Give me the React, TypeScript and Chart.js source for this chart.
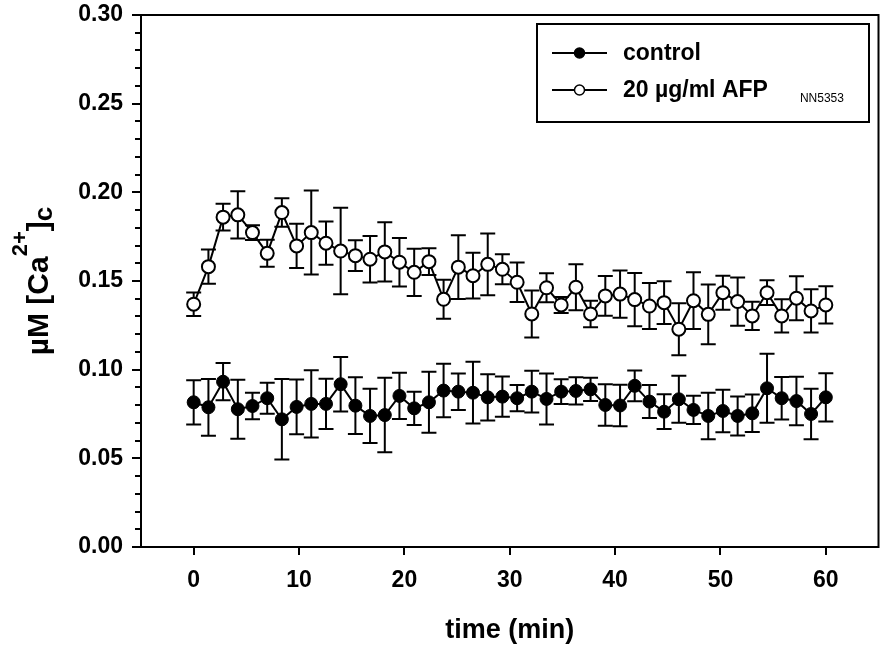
import React, { useEffect, useRef } from "react";
import { Chart, registerables } from "chart.js";

Chart.register(...registerables);

const timeMin = [
  0, 1.4, 2.79, 4.19, 5.58, 6.98, 8.37, 9.77, 11.16, 12.56, 13.95, 15.35, 16.74, 18.14, 19.53,
  20.93, 22.33, 23.72, 25.12, 26.51, 27.91, 29.3, 30.7, 32.09, 33.49, 34.88, 36.28, 37.67, 39.07,
  40.47, 41.86, 43.26, 44.65, 46.05, 47.44, 48.84, 50.23, 51.63, 53.02, 54.42, 55.81, 57.21, 58.6, 60,
];

const controlMean = [
  0.0816, 0.0788, 0.0932, 0.0777, 0.0795, 0.0839, 0.072, 0.079, 0.0807, 0.0807, 0.0918, 0.0797,
  0.0739, 0.0744, 0.0852, 0.0782, 0.0816, 0.0882, 0.0876, 0.087, 0.0844, 0.0848, 0.0839, 0.0876,
  0.0835, 0.0876, 0.088, 0.0889, 0.0801, 0.0798, 0.0909, 0.082, 0.0763, 0.0833, 0.0773, 0.0739,
  0.0767, 0.0739, 0.0754, 0.0895, 0.0839, 0.0823, 0.075, 0.0844,
];
const controlErr = [
  0.0125, 0.016, 0.0105, 0.0166, 0.0075, 0.0087, 0.0227, 0.0154, 0.019, 0.0142, 0.0154, 0.016,
  0.0153, 0.021, 0.013, 0.0094, 0.0172, 0.0151, 0.0103, 0.0174, 0.013, 0.0113, 0.0074, 0.0118,
  0.0144, 0.007, 0.0077, 0.0066, 0.0117, 0.0117, 0.0087, 0.0093, 0.0098, 0.0133, 0.008, 0.0131,
  0.012, 0.011, 0.0106, 0.0195, 0.012, 0.0137, 0.0142, 0.0136,
];

const afpMean = [
  0.1369, 0.1581, 0.186, 0.1873, 0.1773, 0.1656, 0.1886, 0.1698, 0.1773, 0.1713, 0.1669, 0.1643,
  0.1623, 0.1664, 0.1606, 0.1549, 0.1609, 0.1397, 0.1578, 0.153, 0.1594, 0.1566, 0.1493, 0.1314,
  0.1462, 0.1365, 0.1465, 0.1314, 0.1416, 0.1426, 0.1395, 0.1359, 0.1378, 0.1228, 0.1389, 0.1312,
  0.1434, 0.1384, 0.1303, 0.1434, 0.1303, 0.1403, 0.1331, 0.1365,
];
const afpErr = [
  0.0066, 0.0096, 0.0075, 0.0133, 0.0042, 0.0076, 0.008, 0.0125, 0.0237, 0.0122, 0.0244, 0.0087,
  0.0131, 0.0167, 0.0137, 0.0133, 0.0075, 0.011, 0.018, 0.0129, 0.0174, 0.0085, 0.0111, 0.0132,
  0.0082, 0.0045, 0.013, 0.0075, 0.0112, 0.0133, 0.015, 0.013, 0.012, 0.0146, 0.016, 0.0168,
  0.0096, 0.0136, 0.008, 0.007, 0.0094, 0.0124, 0.0122, 0.0105,
];

const xTickValues = [0, 10, 20, 30, 40, 50, 60];
const yTickValues = [0, 0.05, 0.1, 0.15, 0.2, 0.25, 0.3];
const yMinorValues = [
  0.01, 0.02, 0.03, 0.04, 0.06, 0.07, 0.08, 0.09, 0.11, 0.12, 0.13, 0.14, 0.16, 0.17, 0.18, 0.19,
  0.21, 0.22, 0.23, 0.24, 0.26, 0.27, 0.28, 0.29,
];

const seriesNames = ["control", "20 µg/ml AFP"];
const seriesSubscript = ["", "NN5353"];
const xTitle = "time (min)";
const yTitleParts = { main: "µM [Ca", sup: "2+", close: "]", sub: "c" };

const FONT = "'Liberation Sans', Arial, sans-serif";
const errors = [controlErr, afpErr];

export default function App() {
  const ref = useRef<HTMLCanvasElement>(null);

  useEffect(() => {
    document.body.style.margin = "0";
    const canvas = ref.current;
    if (!canvas) return;

    const decorPlugin = {
      id: "decor",
      beforeDatasetsDraw(chart: any) {
        const ctx = chart.ctx;
        const ys = chart.scales.y;
        ctx.save();
        ctx.strokeStyle = "#000";
        ctx.lineWidth = 2;
        chart.data.datasets.forEach((ds: any, i: number) => {
          const meta = chart.getDatasetMeta(i);
          const errs = errors[i];
          meta.data.forEach((pt: any, j: number) => {
            const v = ds.data[j].y;
            const e = errs[j];
            const yt = ys.getPixelForValue(v + e);
            const yb = ys.getPixelForValue(v - e);
            const x = pt.x;
            ctx.beginPath();
            ctx.moveTo(x, yt);
            ctx.lineTo(x, yb);
            ctx.moveTo(x - 7.5, yt);
            ctx.lineTo(x + 7.5, yt);
            ctx.moveTo(x - 7.5, yb);
            ctx.lineTo(x + 7.5, yb);
            ctx.stroke();
          });
        });
        ctx.restore();
      },
      afterDraw(chart: any) {
        const ctx = chart.ctx;
        const { left, right, top, bottom } = chart.chartArea;
        const ys = chart.scales.y;
        ctx.save();
        ctx.strokeStyle = "#000";
        ctx.fillStyle = "#000";
        ctx.lineWidth = 2;
        // frame
        ctx.strokeRect(left, top, right - left, bottom - top);
        // minor y ticks
        ctx.beginPath();
        yMinorValues.forEach((v) => {
          const y = Math.round(ys.getPixelForValue(v));
          ctx.moveTo(left - 6, y);
          ctx.lineTo(left, y);
        });
        ctx.stroke();

        // x title
        ctx.font = `bold 27px ${FONT}`;
        ctx.textAlign = "center";
        ctx.textBaseline = "middle";
        ctx.fillText(xTitle, (left + right) / 2, 631);

        // y title (rotated)
        ctx.save();
        const mainF = `bold 30px ${FONT}`;
        const supF = `bold 22px ${FONT}`;
        const subF = `bold 26px ${FONT}`;
        ctx.font = mainF;
        const w1 = ctx.measureText(yTitleParts.main).width;
        const w3 = ctx.measureText(yTitleParts.close).width;
        ctx.font = supF;
        const w2 = ctx.measureText(yTitleParts.sup).width;
        ctx.font = subF;
        const w4 = ctx.measureText(yTitleParts.sub).width;
        const total = w1 + w2 + w3 + w4;
        ctx.translate(48, (top + bottom) / 2);
        ctx.rotate(-Math.PI / 2);
        ctx.textAlign = "left";
        ctx.textBaseline = "alphabetic";
        let x = -total / 2;
        ctx.font = mainF;
        ctx.fillText(yTitleParts.main, x, 0);
        x += w1;
        ctx.font = supF;
        ctx.fillText(yTitleParts.sup, x, -21);
        x += w2;
        ctx.font = mainF;
        ctx.fillText(yTitleParts.close, x, 0);
        x += w3;
        ctx.font = subF;
        ctx.fillText(yTitleParts.sub, x, 4);
        ctx.restore();

        // legend
        const lx = 537, ly = 24, lw = 332, lh = 98;
        ctx.fillStyle = "#fff";
        ctx.fillRect(lx, ly, lw, lh);
        ctx.strokeRect(lx, ly, lw, lh);
        const rowsY = [53, 90];
        const fills = ["#000", "#fff"];
        rowsY.forEach((ry, i) => {
          ctx.strokeStyle = "#000";
          ctx.lineWidth = 2;
          ctx.beginPath();
          ctx.moveTo(552, ry);
          ctx.lineTo(607, ry);
          ctx.stroke();
          ctx.beginPath();
          ctx.arc(579.5, ry, 5, 0, Math.PI * 2);
          ctx.fillStyle = fills[i];
          ctx.fill();
          ctx.lineWidth = 1.5;
          ctx.stroke();
          ctx.fillStyle = "#000";
          ctx.font = `bold 23px ${FONT}`;
          ctx.textAlign = "left";
          ctx.textBaseline = "alphabetic";
          ctx.fillText(seriesNames[i], 623, ry + 7);
          if (seriesSubscript[i]) {
            const tw = ctx.measureText(seriesNames[i]).width;
            ctx.font = `12px ${FONT}`;
            ctx.fillText(seriesSubscript[i], 623 + tw + 32, ry + 12);
          }
        });
        ctx.restore();
      },
    };

    const zeroPad = (s: any) => {
      s.paddingTop = 0;
      s.paddingBottom = 0;
      s.paddingLeft = 0;
      s.paddingRight = 0;
    };

    const chart = new Chart(canvas, {
      type: "line",
      data: {
        datasets: [
          {
            label: seriesNames[0],
            data: timeMin.map((t, i) => ({ x: t, y: controlMean[i] })),
            borderColor: "#000",
            borderWidth: 2,
            backgroundColor: "#000",
            pointBackgroundColor: "#000",
            pointBorderColor: "#000",
            pointBorderWidth: 1,
            pointRadius: 6.5,
            tension: 0,
          },
          {
            label: seriesNames[1],
            data: timeMin.map((t, i) => ({ x: t, y: afpMean[i] })),
            borderColor: "#000",
            borderWidth: 2,
            backgroundColor: "#fff",
            pointBackgroundColor: "#fff",
            pointBorderColor: "#000",
            pointBorderWidth: 2,
            pointRadius: 6.5,
            tension: 0,
          },
        ],
      },
      options: {
        responsive: false,
        animation: false,
        devicePixelRatio: 1,
        layout: { padding: { top: 15, right: 8, left: 0, bottom: 0 } },
        plugins: { legend: { display: false }, tooltip: { enabled: false }, title: { display: false } },
        scales: {
          x: {
            type: "linear",
            min: -5,
            max: 65,
            afterBuildTicks: (s: any) => {
              s.ticks = xTickValues.map((v) => ({ value: v }));
            },
            afterFit: (s: any) => {
              s.height = 104;
              zeroPad(s);
            },
            grid: { drawOnChartArea: false, drawTicks: true, tickLength: 8, color: "#000", lineWidth: 2 },
            border: { display: false },
            ticks: {
              color: "#000",
              font: { family: FONT, size: 23, weight: "bold" },
              padding: 12,
              maxRotation: 0,
              autoSkip: false,
            },
          },
          y: {
            type: "linear",
            min: 0,
            max: 0.3,
            afterBuildTicks: (s: any) => {
              s.ticks = yTickValues.map((v) => ({ value: v }));
            },
            afterFit: (s: any) => {
              s.width = 141;
              zeroPad(s);
            },
            grid: { drawOnChartArea: false, drawTicks: true, tickLength: 9, color: "#000", lineWidth: 2 },
            border: { display: false },
            ticks: {
              color: "#000",
              font: { family: FONT, size: 23, weight: "bold" },
              padding: 9,
              autoSkip: false,
              callback: (v: any) => Number(v).toFixed(2),
            },
          },
        },
      },
      plugins: [decorPlugin],
    } as any);

    return () => chart.destroy();
  }, []);

  return (
    <div style={{ position: "absolute", left: 0, top: 0, width: 887, height: 651, background: "#fff" }}>
      <canvas ref={ref} width={887} height={651} style={{ display: "block", width: 887, height: 651 }} />
    </div>
  );
}
